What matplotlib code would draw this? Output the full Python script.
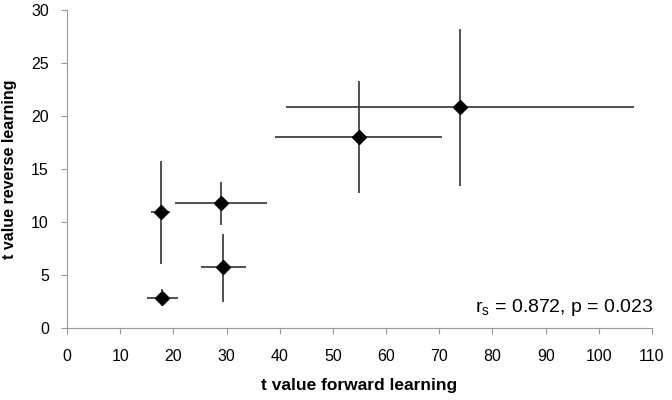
import matplotlib.pyplot as plt

plt.rcParams["font.family"] = ["Liberation Sans", "DejaVu Sans"]

# forward / reverse learning t values with their ranges
x_fwd = [17.9, 17.7, 29.4, 29.0, 54.9, 73.9]
x_lo = [15.1, 15.75, 25.2, 20.3, 39.1, 41.25]
x_hi = [20.9, 19.4, 33.6, 37.6, 70.6, 106.6]
y_rev = [2.83, 10.92, 5.71, 11.77, 18.05, 20.84]
y_lo = [2.03, 6.05, 2.48, 9.7, 12.77, 13.43]
y_hi = [3.67, 15.75, 8.85, 13.75, 23.3, 28.2]

x_ticks = list(range(0, 111, 10))
y_ticks = list(range(0, 31, 5))

xerr = [[x - lo for x, lo in zip(x_fwd, x_lo)], [hi - x for x, hi in zip(x_fwd, x_hi)]]
yerr = [[y - lo for y, lo in zip(y_rev, y_lo)], [hi - y for y, hi in zip(y_rev, y_hi)]]

fig = plt.figure(figsize=(6.72, 4.0), dpi=100)
ax = fig.add_axes([67 / 672, 72 / 400, 585 / 672, 318 / 400])

ax.errorbar(x_fwd, y_rev, xerr=xerr, yerr=yerr, fmt="D", color="black",
            ecolor="#333333", elinewidth=1.2, capsize=0, markersize=7.5)

ax.set_xlim(0, 110)
ax.set_ylim(0, 30)
ax.set_xticks(x_ticks)
ax.set_yticks(y_ticks)
ax.tick_params(direction="out", length=4, color="#999999", labelsize=11.5)
ax.tick_params(axis="x", pad=11)
ax.tick_params(axis="y", pad=9)

for side in ["top", "right"]:
    ax.spines[side].set_visible(False)
for side in ["left", "bottom"]:
    ax.spines[side].set_color("#999999")
    ax.spines[side].set_linewidth(0.8)

ax.set_xlabel("t value forward learning", fontsize=12.5, fontweight="bold",
              labelpad=10)
ax.set_ylabel("t value reverse learning", fontsize=11.5, fontweight="bold",
              labelpad=10)

ax.text(110.3, 0.9, r"r$_\mathregular{s}$ = 0.872, p = 0.023", fontsize=14,
        ha="right", va="bottom")

fig.savefig("out.png", dpi=100)
